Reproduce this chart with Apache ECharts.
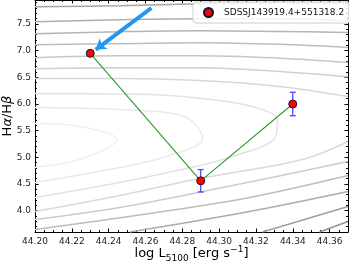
<!DOCTYPE html>
<html>
<head>
<meta charset="utf-8">
<script src="https://cdn.jsdelivr.net/npm/echarts@6/dist/echarts.min.js"></script>
<style>
html,body{margin:0;padding:0;background:#fff;}
#chart{width:349px;height:264px;}
</style>
</head>
<body>
<div id="chart"></div>
<script>
// ---- data ----
const sourceName = 'SDSSJ143919.4+551318.2';
const lumX = [44.23, 44.29, 44.34];
const ratio = [6.95, 4.56, 6.00];
const ratioErr = [0.03, 0.21, 0.22];

const xTickValues = [44.20, 44.22, 44.24, 44.26, 44.28, 44.30, 44.32, 44.34, 44.36];
const yTickValues = [4.0, 4.5, 5.0, 5.5, 6.0, 6.5, 7.0, 7.5];

const arrowTail = [44.2632, 7.80];
const arrowHead = [44.2330, 7.02];

// background contour lines (traced)
const contourC1 = [[44.20,7.824],[44.2461,7.843],[44.2894,7.880],[44.3328,7.899],[44.37,7.88]];
const contourC2 = [[44.20,7.543],[44.2461,7.581],[44.2894,7.599],[44.3328,7.599],[44.37,7.56]];
const contourC3 = [[44.20,7.318],[44.2461,7.356],[44.2894,7.375],[44.3328,7.36],[44.37,7.34]];
const contourC4 = [[44.20,7.112],[44.2461,7.131],[44.2894,7.150],[44.3328,7.12],[44.37,7.06]];
const contourC5 = [[44.20,6.869],[44.2461,6.906],[44.2894,6.906],[44.3328,6.86],[44.37,6.78]];
const contourC6 = [[44.20,6.663],[44.2461,6.682],[44.2894,6.68],[44.3328,6.61],[44.37,6.51]];
const contourC7 = [[44.20,6.476],[44.2461,6.476],[44.2894,6.44],[44.3328,6.33],[44.37,6.14]];
const contourU2 = [[44.20,6.195],[44.2623,6.176],[44.3003,6.064],[44.3236,5.895],[44.3317,5.689],[44.3301,5.352],[44.3073,5.015],[44.2894,4.846],[44.2461,4.528],[44.20,4.247]];
const contourU1 = [[44.20,5.933],[44.2569,5.876],[44.2824,5.745],[44.2911,5.352],[44.2694,4.996],[44.2461,4.809],[44.20,4.528]];
const contourU0 = [[44.20,5.633],[44.2244,5.577],[44.2444,5.333],[44.2260,4.977],[44.20,4.809]];
const contourL3 = [[44.20,3.985],[44.2461,4.285],[44.2894,4.603],[44.3453,4.959],[44.37,5.296]];
const contourL4 = [[44.20,3.835],[44.2461,4.060],[44.3073,4.472],[44.37,4.921]];
const contourL5 = [[44.20,3.648],[44.2623,3.948],[44.3165,4.247],[44.37,4.659]];
const contourL6 = [[44.2515,3.60],[44.3165,3.985],[44.37,4.360]];
const contourL7 = [[44.3236,3.60],[44.37,4.079]];
const contourL8 = [[44.3545,3.60],[44.37,3.798]];

const contourList = [
  [contourC1,'#a4a4a4'],[contourC2,'#acacac'],[contourC3,'#b4b4b4'],[contourC4,'#bdbdbd'],
  [contourC5,'#c6c6c6'],[contourC6,'#cfcfcf'],[contourC7,'#d8d8d8'],[contourU2,'#e2e2e2'],
  [contourU1,'#e9e9e9'],[contourU0,'#f0f0f0'],[contourL3,'#dadada'],[contourL4,'#cbcbcb'],
  [contourL5,'#bcbcbc'],[contourL6,'#acacac'],[contourL7,'#9f9f9f'],[contourL8,'#939393']
];

// ---- build ----
const FONT = 'DejaVu Sans';
const xMin = 44.20, xMax = 44.37, yMin = 3.6, yMax = 7.95;
const xMinor = [];
for (let i = 0; i <= 34; i++) xMinor.push(+(44.20 + i * 0.005).toFixed(3));
const yMinor = [];
for (let i = 0; i <= 43; i++) yMinor.push(+(3.6 + i * 0.1).toFixed(1));

function mkX(pos, ticks, len, line, labels) {
  return {
    type: 'value', position: pos, min: xMin, max: xMax,
    axisLine: { show: line, onZero: false, lineStyle: { color: '#000', width: 1 } },
    axisTick: { show: true, inside: true, length: len, customValues: ticks, lineStyle: { color: '#000', width: 1 } },
    axisLabel: { show: labels, customValues: ticks, formatter: v => v.toFixed(2), fontSize: 9, fontFamily: FONT, color: '#222', margin: 5 },
    splitLine: { show: false }
  };
}
function mkY(pos, ticks, len, line, labels) {
  return {
    type: 'value', position: pos, min: yMin, max: yMax,
    axisLine: { show: line, onZero: false, lineStyle: { color: '#000', width: 1 } },
    axisTick: { show: true, inside: true, length: len, customValues: ticks, lineStyle: { color: '#000', width: 1 } },
    axisLabel: { show: labels, customValues: ticks, formatter: v => v.toFixed(1), fontSize: 9, fontFamily: FONT, color: '#222', margin: 4 },
    splitLine: { show: false }
  };
}

const xMain = mkX('bottom', xTickValues, 3.5, true, true);
xMain.name = '{a|log L}{sub|5100}{a| [erg s}{sup|\u22121}{a|]}';
xMain.nameLocation = 'middle';
xMain.nameGap = 13;
xMain.nameMoveOverlap = false;
xMain.nameTextStyle = {
  fontFamily: FONT, color: '#000',
  rich: {
    a: { fontSize: 13, fontFamily: FONT, color: '#000', lineHeight: 18, verticalAlign: 'middle' },
    sub: { fontSize: 9, fontFamily: FONT, color: '#000', lineHeight: 9, verticalAlign: 'bottom' },
    sup: { fontSize: 9, fontFamily: FONT, color: '#000', lineHeight: 9, verticalAlign: 'top' }
  }
};
const yMain = mkY('left', yTickValues, 3.5, true, true);
yMain.name = '{n|H}{g|\u03b1}{n|/H}{g|\u03b2}';
yMain.nameLocation = 'middle';
yMain.nameGap = 21;
yMain.nameMoveOverlap = false;
yMain.nameTextStyle = {
  fontFamily: FONT, color: '#000',
  rich: {
    n: { fontSize: 13, fontFamily: FONT, color: '#000' },
    g: { fontSize: 13, fontFamily: FONT, color: '#000', fontStyle: 'italic' }
  }
};

const series = [];
contourList.forEach(([pts, col]) => {
  series.push({
    type: 'line', data: pts, smooth: 0.35, showSymbol: false, silent: true,
    xAxisIndex: 0, yAxisIndex: 0, z: 1,
    lineStyle: { color: col, width: 1.5 }
  });
});
const pts = lumX.map((x, i) => [x, ratio[i]]);
series.push({
  type: 'line', data: pts, showSymbol: false, xAxisIndex: 0, yAxisIndex: 0, z: 2,
  lineStyle: { color: '#2a9a2a', width: 1.1 }
});
series.push({
  type: 'custom', xAxisIndex: 0, yAxisIndex: 0, z: 3,
  data: lumX.map((x, i) => [x, ratio[i], ratioErr[i]]),
  renderItem: (params, api) => {
    const x = api.value(0), y = api.value(1), e = api.value(2);
    const t = api.coord([x, y + e]), b = api.coord([x, y - e]);
    const st = { stroke: '#4a4aff', lineWidth: 1.3 };
    const hw = 3;
    return {
      type: 'group', children: [
        { type: 'line', shape: { x1: t[0], y1: t[1], x2: b[0], y2: b[1] }, style: st },
        { type: 'line', shape: { x1: t[0] - hw, y1: t[1], x2: t[0] + hw, y2: t[1] }, style: st },
        { type: 'line', shape: { x1: b[0] - hw, y1: b[1], x2: b[0] + hw, y2: b[1] }, style: st }
      ]
    };
  }
});
series.push({
  name: sourceName, type: 'scatter', data: pts, xAxisIndex: 0, yAxisIndex: 0, z: 4,
  symbol: 'circle', symbolSize: 8,
  itemStyle: { color: '#ff0000', borderColor: '#10103a', borderWidth: 1, opacity: 1 }
});
series.push({
  type: 'lines', coordinateSystem: 'cartesian2d', xAxisIndex: 0, yAxisIndex: 0, z: 5,
  data: [{ coords: [arrowTail, arrowHead] }],
  symbol: ['none', 'arrow'], symbolSize: 10,
  lineStyle: { color: '#2196f3', width: 4, opacity: 1, curveness: 0 },
  silent: true
});

const chart = echarts.init(document.getElementById('chart'), null, { renderer: 'canvas' });
chart.setOption({
  animation: false,
  backgroundColor: '#fff',
  grid: { left: 35, right: 1, top: 0, bottom: 32, containLabel: false, outerBoundsMode: 'none' },
  legend: {
    data: [sourceName], left: 193, top: 2,
    icon: 'circle', itemWidth: 9, itemHeight: 9,
    textStyle: { fontSize: 9, fontFamily: FONT, color: '#111', padding: [0, 0, 0, 6] },
    backgroundColor: 'rgba(255,255,255,0.85)', borderColor: '#cccccc', borderWidth: 1, borderRadius: 3,
    padding: [5, 6, 5, 10]
  },
  xAxis: [xMain, mkX('bottom', xMinor, 2, false, false), mkX('top', xTickValues, 3.5, true, false), mkX('top', xMinor, 2, false, false)],
  yAxis: [yMain, mkY('left', yMinor, 2, false, false), mkY('right', yTickValues, 3.5, true, false), mkY('right', yMinor, 2, false, false)],
  series: series
});
</script>
</body>
</html>
